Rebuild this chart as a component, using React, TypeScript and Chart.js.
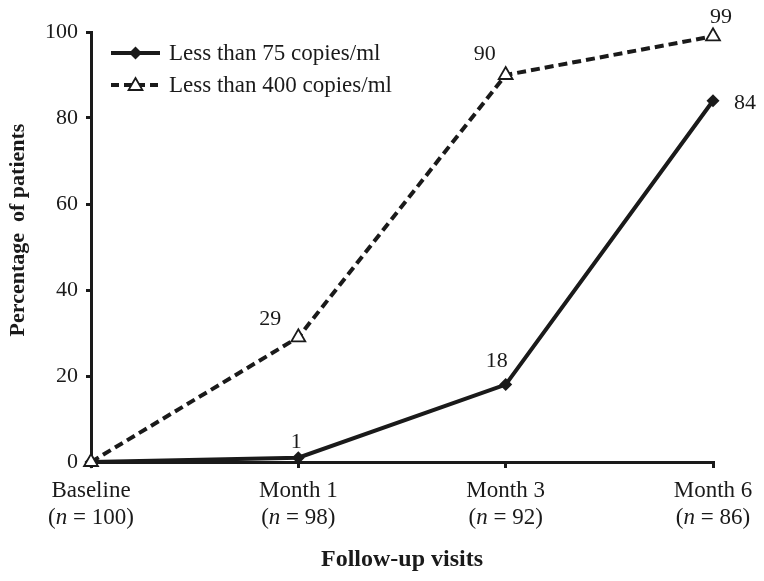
import React, { useEffect, useRef } from "react";
import { Chart, registerables } from "chart.js";

Chart.register(...registerables);

const visitNames = ["Baseline", "Month 1", "Month 3", "Month 6"];
const sampleSizes = [100, 98, 92, 86];
const below75 = [0, 1, 18, 84];
const below400 = [0, 29, 90, 99];
const seriesNames = ["Less than 75 copies/ml", "Less than 400 copies/ml"];
const yTicks = [0, 20, 40, 60, 80, 100];
const yTitle = "Percentage  of patients";
const xTitle = "Follow-up visits";

// label offsets (style only): [dx, dy] for each point, null = no label
const offsets75: ([number, number] | null)[] = [null, [-2, -15], [-9, -23], [32, 2]];
const offsets400: ([number, number] | null)[] = [null, [-28, -18], [-21, -21], [8, -19]];

const FONT = "'Liberation Serif', 'Times New Roman', serif";
const INK = "#1a1a1a";

function drawDiamond(ctx: CanvasRenderingContext2D, x: number, y: number, r: number) {
  ctx.beginPath();
  ctx.moveTo(x, y - r);
  ctx.lineTo(x + r, y);
  ctx.lineTo(x, y + r);
  ctx.lineTo(x - r, y);
  ctx.closePath();
  ctx.fillStyle = INK;
  ctx.fill();
}
function drawTriangle(ctx: CanvasRenderingContext2D, x: number, y: number, r: number) {
  const h = r * Math.cos(Math.PI / 6);
  ctx.beginPath();
  ctx.moveTo(x, y - r);
  ctx.lineTo(x + h, y + r / 2);
  ctx.lineTo(x - h, y + r / 2);
  ctx.closePath();
  ctx.fillStyle = "#fff";
  ctx.fill();
  ctx.lineWidth = 1.8;
  ctx.strokeStyle = INK;
  ctx.setLineDash([]);
  ctx.stroke();
}

const overlayPlugin = {
  id: "overlay",
  afterDraw(chart: any) {
    const ctx = chart.ctx as CanvasRenderingContext2D;
    const a = chart.chartArea;
    ctx.save();
    // x tick labels with italic n
    const xs = chart.scales.x;
    ctx.fillStyle = INK;
    ctx.textBaseline = "middle";
    visitNames.forEach((name, i) => {
      const px = xs.getPixelForTick(i);
      ctx.font = `23px ${FONT}`;
      ctx.textAlign = "center";
      ctx.fillText(name, px, a.bottom + 29);
      const p1 = "(";
      const p2 = "n";
      const p3 = ` = ${sampleSizes[i]})`;
      ctx.font = `23px ${FONT}`;
      const w1 = ctx.measureText(p1).width;
      const w3 = ctx.measureText(p3).width;
      ctx.font = `italic 23px ${FONT}`;
      const w2 = ctx.measureText(p2).width;
      let x = px - (w1 + w2 + w3) / 2;
      ctx.textAlign = "left";
      const y2 = a.bottom + 56;
      ctx.font = `23px ${FONT}`;
      ctx.fillText(p1, x, y2);
      x += w1;
      ctx.font = `italic 23px ${FONT}`;
      ctx.fillText(p2, x, y2);
      x += w2;
      ctx.font = `23px ${FONT}`;
      ctx.fillText(p3, x, y2);
    });
    // y title
    ctx.save();
    ctx.translate(18, (a.top + a.bottom) / 2 - 17);
    ctx.rotate(-Math.PI / 2);
    ctx.font = `bold 22px ${FONT}`;
    ctx.textAlign = "center";
    ctx.fillText(yTitle, 0, 0);
    ctx.restore();
    // x title
    ctx.font = `bold 24px ${FONT}`;
    ctx.textAlign = "center";
    ctx.fillText(xTitle, (a.left + a.right) / 2, 560);
    ctx.restore();
  },
  afterDatasetsDraw(chart: any) {
    const ctx = chart.ctx as CanvasRenderingContext2D;
    const offs = [offsets75, offsets400];
    ctx.save();
    ctx.font = `22px ${FONT}`;
    ctx.fillStyle = INK;
    ctx.textAlign = "center";
    ctx.textBaseline = "middle";
    chart.data.datasets.forEach((ds: any, di: number) => {
      const meta = chart.getDatasetMeta(di);
      meta.data.forEach((pt: any, i: number) => {
        const o = offs[di][i];
        if (!o) return;
        ctx.fillText(String(ds.data[i]), pt.x + o[0], pt.y + o[1]);
      });
    });
    // legend
    const a = chart.chartArea;
    const x0 = a.left + 20;
    const x1 = a.left + 69;
    const rows = [a.top + 21, a.top + 53];
    ctx.font = `23px ${FONT}`;
    chart.data.datasets.forEach((ds: any, di: number) => {
      const y = rows[di];
      ctx.beginPath();
      ctx.lineWidth = 4;
      ctx.strokeStyle = INK;
      ctx.setLineDash(di === 0 ? [] : [8, 5]);
      ctx.moveTo(x0, y);
      ctx.lineTo(x1, y);
      ctx.stroke();
      ctx.setLineDash([]);
      const cx = (x0 + x1) / 2;
      if (di === 0) drawDiamond(ctx, cx, y, 6.5);
      else drawTriangle(ctx, cx, y + 1, 8);
      ctx.fillStyle = INK;
      ctx.textAlign = "left";
      ctx.fillText(ds.label, x1 + 9, y + 1);
    });
    ctx.restore();
  },
};

export default function App() {
  const ref = useRef<HTMLCanvasElement | null>(null);
  useEffect(() => {
    if (!ref.current) return;
    const labels = visitNames.map((n, i) => [n, `(n = ${sampleSizes[i]})`]);
    const chart = new Chart(ref.current, {
      type: "line",
      data: {
        labels,
        datasets: [
          {
            label: seriesNames[0],
            data: below75,
            borderColor: INK,
            backgroundColor: INK,
            borderWidth: 4,
            pointStyle: "rectRot",
            pointRadius: 6.5,
            pointBorderWidth: 0,
            pointBackgroundColor: INK,
            tension: 0,
            clip: false,
            order: 1,
          },
          {
            label: seriesNames[1],
            data: below400,
            borderColor: INK,
            backgroundColor: "#fff",
            borderWidth: 4,
            borderDash: [9, 5],
            pointStyle: "triangle",
            pointRadius: 8,
            pointBorderWidth: 1.8,
            pointBorderColor: INK,
            pointBackgroundColor: "#fff",
            tension: 0,
            clip: false,
            order: 0,
          },
        ],
      },
      options: {
        animation: false,
        responsive: true,
        maintainAspectRatio: false,
        layout: { padding: { left: 0, top: 32, right: 51, bottom: 0 } },
        plugins: { legend: { display: false }, tooltip: { enabled: false } },
        scales: {
          x: {
            type: "category",
            offset: false,
            afterFit: (s: any) => {
              s.height = 119;
            },
            grid: {
              display: true,
              drawOnChartArea: false,
              drawTicks: true,
              tickLength: 6,
              color: INK,
              lineWidth: 3,
            },
            border: { display: true, color: INK, width: 3 },
            ticks: { display: false, autoSkip: false, maxRotation: 0 },
            title: { display: false, text: xTitle },
          },
          y: {
            min: 0,
            max: 100,
            afterFit: (s: any) => {
              s.width = 91;
            },
            afterBuildTicks: (s: any) => {
              s.ticks = yTicks.map((v) => ({ value: v }));
            },
            grid: {
              display: true,
              drawOnChartArea: false,
              drawTicks: true,
              tickLength: 5,
              color: INK,
              lineWidth: 3,
            },
            border: { display: true, color: INK, width: 3 },
            ticks: {
              color: INK,
              font: { family: FONT, size: 22 },
              padding: 8,
            },
            title: { display: false, text: yTitle },
          },
        },
      },
      plugins: [overlayPlugin],
    });
    return () => chart.destroy();
  }, []);
  return (
    <div style={{ position: "fixed", left: 0, top: 0, width: 764, height: 581, background: "#fff" }}>
      <canvas ref={ref} />
    </div>
  );
}
